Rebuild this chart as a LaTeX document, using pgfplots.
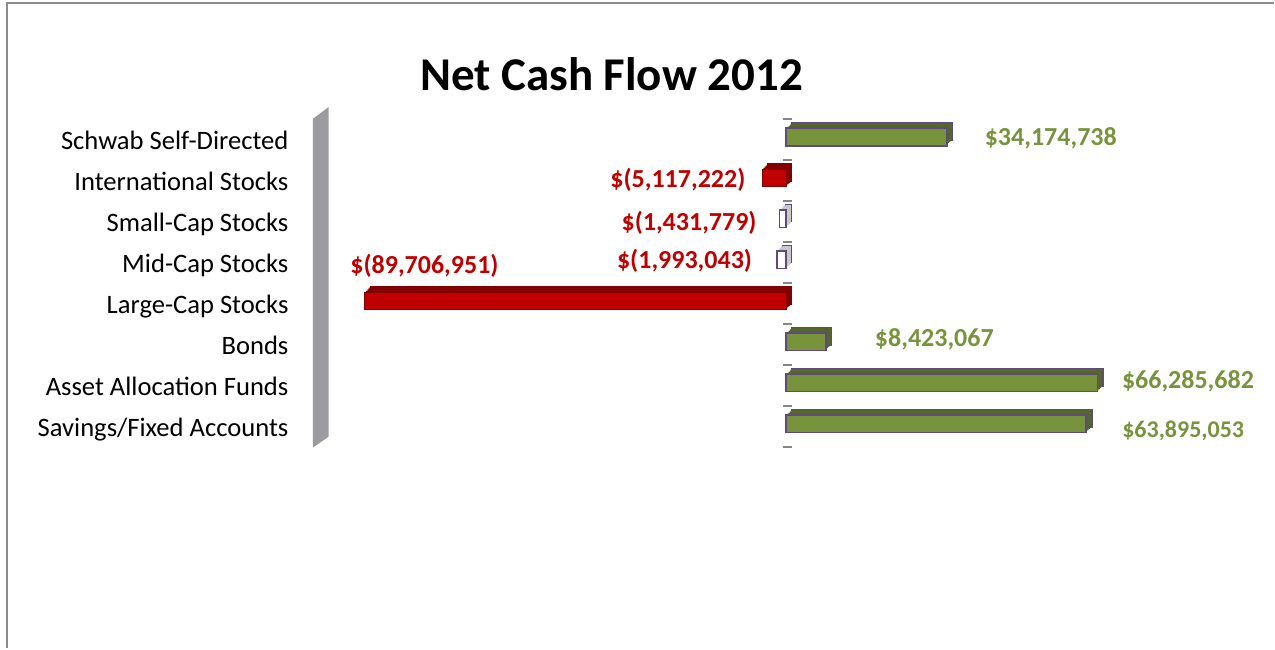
\documentclass[border=0pt]{standalone}
\usepackage{pgfplots}
\pgfplotsset{compat=1.18}
\usepackage{fontspec}
\setmainfont{Carlito}
\definecolor{gfront}{RGB}{119,147,60}
\definecolor{gdark}{RGB}{84,102,44}
\definecolor{purp}{RGB}{96,74,123}
\definecolor{rfront}{RGB}{192,0,0}
\definecolor{rdark}{RGB}{130,0,0}
\definecolor{wdark}{RGB}{200,200,205}
\definecolor{wallgray}{RGB}{155,155,160}
\definecolor{framegray}{RGB}{140,140,140}
\definecolor{tickgray}{RGB}{134,134,134}
\newcommand\catfont{\fontsize{13.3bp}{16bp}\selectfont}
\newcommand\labfont{\fontsize{13bp}{15bp}\selectfont\bfseries}
\tikzset{
  deep/.style n args={3}{
    preaction={fill=#1, draw=#2, line width=#3, transform canvas={shift={(2.8bp,2.8bp)}}},
    preaction={fill=#1, draw=none, transform canvas={shift={(2.3bp,2.3bp)}}},
    preaction={fill=#1, draw=none, transform canvas={shift={(1.8bp,1.8bp)}}},
    preaction={fill=#1, draw=none, transform canvas={shift={(1.2bp,1.2bp)}}},
    preaction={fill=#1, draw=none, transform canvas={shift={(0.6bp,0.6bp)}}},
  },
}
\begin{document}
\begin{tikzpicture}
\path (0,0) rectangle (637.5bp,324.5bp);
\begin{scope}[yshift=324.5bp, x=0.5bp, y=-0.5bp]
  \draw[framegray, line width=1bp] (7,649) -- (7,3.5) -- (1275,3.5);
  \fill[wallgray] (313,448) -- (313,119) -- (329,107) -- (329,437) -- cycle;
  \node[anchor=base, inner sep=0pt, font=\fontsize{23.5bp}{28bp}\selectfont\bfseries] at (612,91) {Net Cash Flow 2012};
\end{scope}
\begin{axis}[
  at={(156.5bp,101bp)}, anchor=south west,
  scale only axis, width=471.88bp, height=164bp,
  xmin=-100.8e6, xmax=100e6, ymin=-0.5, ymax=7.5,
  axis line style={draw=none},
  xtick=\empty, ytick={0,...,7},
  yticklabels={Savings/Fixed Accounts, Asset Allocation Funds, Bonds, Large-Cap Stocks, Mid-Cap Stocks, Small-Cap Stocks, International Stocks, Schwab Self-Directed},
  major tick length=0pt,
  yticklabel style={font=\catfont, anchor=east, inner sep=0pt, text height=0.75em, text depth=0.25em, xshift=-12bp, yshift=-2.5bp},
  xbar, bar width=8.75bp, clip=false,
]
% tick dashes at the zero line
\pgfplotsinvokeforeach{-0.5,0.5,...,7.5}{
  \draw[tickgray, line width=1bp] (axis cs:-0.7e6,#1) -- (axis cs:1.2e6,#1);
}
% positive flows
\addplot[bar shift=1.25bp, fill=gfront, draw=purp, line width=0.9bp, deep={gdark}{purp}{0.7bp}] coordinates {
  (34174738,7) (8423067,2) (66285682,1) (63895053,0)
};
% negative flows (red)
\addplot[bar shift=1.25bp, fill=rfront, draw=rdark, line width=0.5bp, deep={rdark}{rdark}{0.4bp}] coordinates {
  (-5117222,6) (-89706951,3)
};
% small negative flows (white)
\addplot[bar shift=1.25bp, fill=white, draw=purp, line width=0.7bp, deep={wdark}{purp}{0.5bp}] coordinates {
  (-1431779,5) (-1993043,4)
};
% data labels
\node[font=\labfont, text=gfront, inner sep=0pt] at (axis cs:56.34e6,7.02) {\$34,174,738};
\node[font=\labfont, text=rfront, inner sep=0pt] at (axis cs:-23.06e6,6.02) {\$(5,117,222)};
\node[font=\labfont, text=rfront, inner sep=0pt] at (axis cs:-20.68e6,4.96) {\$(1,431,779)};
\node[font=\labfont, text=rfront, inner sep=0pt] at (axis cs:-21.64e6,4.03) {\$(1,993,043)};
\node[font=\labfont, text=rfront, inner sep=0pt] at (axis cs:-77.02e6,3.92) {\$(89,706,951)};
\node[font=\labfont, text=gfront, inner sep=0pt] at (axis cs:31.55e6,2.13) {\$8,423,067};
\node[font=\labfont, text=gfront, inner sep=0pt] at (axis cs:85.55e6,1.1) {\$66,285,682};
\node[font=\fontsize{12bp}{14bp}\selectfont\bfseries, text=gfront, inner sep=0pt] at (axis cs:84.53e6,-0.12) {\$63,895,053};
\end{axis}
\end{tikzpicture}
\end{document}
